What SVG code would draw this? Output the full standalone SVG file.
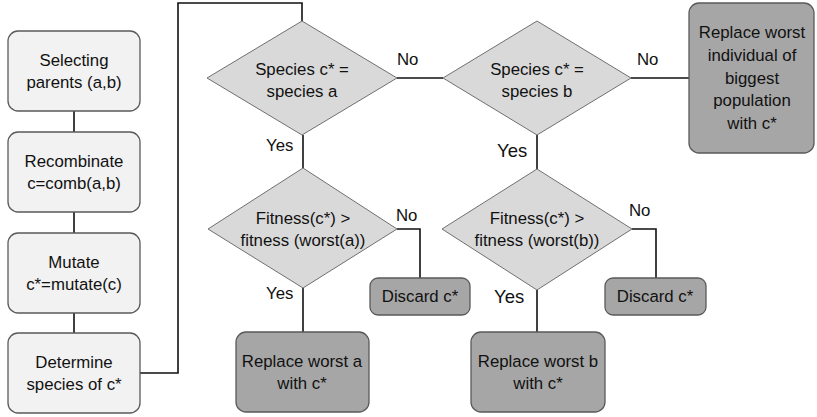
<svg xmlns="http://www.w3.org/2000/svg" width="817" height="417" viewBox="0 0 817 417">
<style>
.light{fill:#f2f2f2;stroke:#5a5a5a;stroke-width:1.3}
.dark{fill:#a6a6a6;stroke:#5a5a5a;stroke-width:1.3}
.dia{fill:#d9d9d9;stroke:#707070;stroke-width:1}
.conn{fill:none;stroke:#111;stroke-width:1.6}
text{font-family:"Liberation Sans",Arial,sans-serif;font-size:16.8px;fill:#111;text-anchor:middle}
.lbl{text-anchor:start}
</style>
<rect width="817" height="417" fill="#fff"/>
<g id="connectors">
<path class="conn" d="M74 111V132M74 212V233M74 313V333"/>
<path class="conn" d="M140 373H178V3H302V21"/>
<path class="conn" d="M397 78H443"/>
<path class="conn" d="M631 78H689"/>
<path class="conn" d="M303 135V168"/>
<path class="conn" d="M537 135V169"/>
<path class="conn" d="M397 229H420V278"/>
<path class="conn" d="M303 288V332"/>
<path class="conn" d="M632 229H656V278"/>
<path class="conn" d="M537 290V332"/>
</g>
<g id="labels">
<text class="lbl" x="397" y="65">No</text>
<text class="lbl" x="637" y="65">No</text>
<text class="lbl" x="266" y="151">Yes</text>
<text class="lbl" x="497" y="157" style="font-size:18.5px">Yes</text>
<text class="lbl" x="396" y="221">No</text>
<text class="lbl" x="629" y="216">No</text>
<text class="lbl" x="266" y="299">Yes</text>
<text class="lbl" x="494" y="303" style="font-size:18.5px">Yes</text>
</g>
<g id="n_select">
<rect class="light" x="8" y="31" width="132" height="80" rx="10"/>
<text x="74" y="66">Selecting</text><text x="74" y="88">parents (a,b)</text>
</g>
<g id="n_recomb">
<rect class="light" x="8" y="132" width="132" height="80" rx="10"/>
<text x="74" y="167">Recombinate</text><text x="74" y="189">c=comb(a,b)</text>
</g>
<g id="n_mutate">
<rect class="light" x="8" y="233" width="132" height="80" rx="10"/>
<text x="74" y="268">Mutate</text><text x="74" y="290">c*=mutate(c)</text>
</g>
<g id="n_determine">
<rect class="light" x="8" y="333" width="132" height="80" rx="10"/>
<text x="74" y="368">Determine</text><text x="74" y="390">species of c*</text>
</g>
<g id="d_species_a">
<polygon class="dia" points="302,21 397,78 302,135 207,78"/>
<text x="302" y="75">Species c* =</text><text x="302" y="97">species a</text>
</g>
<g id="d_species_b">
<polygon class="dia" points="537,21 631,78 537,135 443,78"/>
<text x="537" y="75">Species c* =</text><text x="537" y="97">species b</text>
</g>
<g id="n_replace_big">
<rect class="dark" x="689" y="3" width="125" height="150" rx="10"/>
<text x="752" y="38">Replace worst</text>
<text x="752" y="61">individual of</text>
<text x="752" y="84">biggest</text>
<text x="752" y="106">population</text>
<text x="752" y="129">with c*</text>
</g>
<g id="d_fit_a">
<polygon class="dia" points="303,168 397,229 303,288 208,229"/>
<text x="303" y="224">Fitness(c*) &gt;</text><text x="303" y="246">fitness (worst(a))</text>
</g>
<g id="d_fit_b">
<polygon class="dia" points="537,169 632,229 537,290 442,229"/>
<text x="537" y="224">Fitness(c*) &gt;</text><text x="537" y="246">fitness (worst(b))</text>
</g>
<g id="n_discard_a">
<rect class="dark" x="370" y="278" width="100" height="37" rx="8"/>
<text x="420" y="302">Discard c*</text>
</g>
<g id="n_discard_b">
<rect class="dark" x="605" y="278" width="101" height="37" rx="8"/>
<text x="655" y="302">Discard c*</text>
</g>
<g id="n_replace_a">
<rect class="dark" x="236" y="332" width="133" height="80" rx="10"/>
<text x="302" y="367">Replace worst a</text><text x="302" y="389">with c*</text>
</g>
<g id="n_replace_b">
<rect class="dark" x="471" y="332" width="134" height="80" rx="10"/>
<text x="538" y="367">Replace worst b</text><text x="538" y="389">with c*</text>
</g>
</svg>
